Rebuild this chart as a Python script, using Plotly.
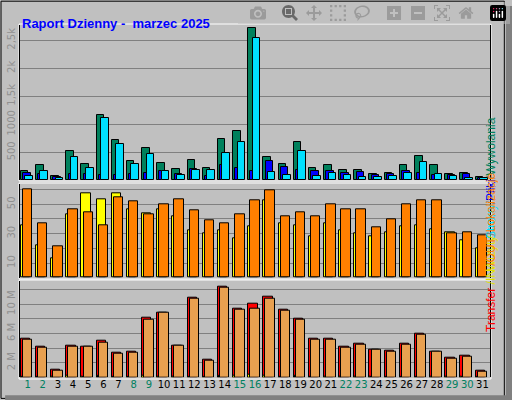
import plotly.graph_objects as go

days = list(range(1, 32))
hits = [160, 274, 71, 524, 292, 1160, 714, 339, 571, 304, 196, 357, 214, 732, 881, 2714,
        417, 292, 679, 214, 268, 179, 179, 113, 125, 268, 435, 268, 107, 125, 54]
files = [137, 119, 60, 113, 119, 95, 95, 113, 131, 167, 113, 202, 77, 274, 220, 167,
         339, 238, 185, 160, 160, 125, 143, 95, 107, 160, 131, 89, 89, 107, 36]
pages = [71, 160, 36, 417, 214, 1113, 649, 286, 470, 167, 95, 179, 179, 488, 679, 2536,
         143, 89, 518, 71, 125, 89, 54, 60, 71, 125, 321, 107, 71, 36, 36]
visits = [35.7, 22, 13, 43, 57.5, 53.4, 57.5, 46.6, 43.9, 46.6, 41.8, 32.3, 30.2, 32.3, 26.8, 35,
          52.7, 37, 35.7, 28.2, 37, 32.3, 30.2, 28.2, 30.9, 35, 35.7, 33, 30.9, 25.5, 20]
sites = [60.2, 37, 21.4, 46.6, 44.5, 35.7, 54.8, 52, 43.2, 50, 53.4, 45.9, 39, 37, 43.2, 52.7,
         59.5, 41.8, 44.5, 41.8, 50, 46.6, 46.6, 34.3, 39.8, 50, 52.7, 52.7, 30.2, 30.9, 28.9]
kb_total = [5.32, 4.23, 1.09, 4.36, 4.23, 5.05, 3.41, 3.55, 8.18, 8.86, 4.36, 10.9, 2.45, 12.4, 9.41, 10.09,
            11.05, 9.27, 8.05, 5.32, 5.32, 4.23, 4.64, 3.82, 3.68, 4.64, 6.0, 3.55, 2.73, 3.0, 0.95]
kb_in = [0.1, 0.1, 0.05, 0.2, 0.1, 0.2, 0.1, 0.1, 0.2, 0.1, 0.1, 0.1, 0.05, 0.2, 0.2, 0.4,
         0.2, 0.1, 0.2, 0.1, 0.1, 0.1, 0.1, 0.1, 0.1, 0.1, 0.1, 0.1, 0.1, 0.1, 0.05]
kb_out = [5.18, 4.09, 0.95, 4.23, 4.23, 4.77, 3.27, 3.41, 7.91, 8.86, 4.36, 10.77, 2.32, 12.27, 9.27, 9.41,
          10.77, 9.14, 7.91, 5.18, 5.18, 4.09, 4.5, 3.82, 3.55, 4.5, 5.86, 3.55, 2.59, 2.86, 0.82]
weekend = {1, 2, 8, 9, 15, 16, 22, 23, 29, 30}

BG = "#C0C0C0"
line = dict(color="black", width=1)

fig = go.Figure()

def bar(y, color, off, w, ax):
    fig.add_trace(go.Bar(x=days, y=y, marker=dict(color=color, line=line),
                         offset=off, width=w, xaxis="x", yaxis=ax, showlegend=False))

bar(hits, "#00805C", -0.45, 0.5, "y")
bar(files, "#0000FF", -0.3, 0.5, "y")
bar(pages, "#00E0FF", -0.15, 0.5, "y")
bar(visits, "#FFFF00", -0.45, 0.62, "y2")
bar(sites, "#FF8000", -0.31, 0.62, "y2")
bar(kb_total, "#FF0000", -0.45, 0.62, "y3")
bar(kb_in, "#FFFF00", -0.45, 0.1, "y3")
bar(kb_out, "#E8A050", -0.31, 0.62, "y3")

xd = [20 / 512, 490 / 512]
def yd(bot, top):
    return [1 - bot / 400, 1 - top / 400]

yax = dict(showgrid=True, gridcolor="#808080", gridwidth=1, zeroline=False, tickangle=-90,
           tickfont=dict(family="DejaVu Sans", size=10, color="#909090"), ticks="",
           showline=True, linecolor="black", mirror=True, fixedrange=True)

fig.update_layout(
    width=512, height=400, margin=dict(l=0, r=0, t=0, b=0),
    paper_bgcolor=BG, plot_bgcolor=BG, barmode="overlay", bargap=0,
    xaxis=dict(domain=xd, range=[0.5, 31.5], tickvals=days,
               ticktext=[f"<span style='color:{'#008060' if d in weekend else 'black'}'>{d}</span>" for d in days],
               tickfont=dict(family="DejaVu Sans", size=10), ticks="", anchor="y3",
               showline=False, showgrid=False, zeroline=False),
    yaxis=dict(domain=yd(180.3, 25), range=[0, 2775], tickvals=[500, 1000, 1500, 2000, 2500],
               ticktext=["500", "1000", "1,5k", "2k", "2,5k"], **yax),
    yaxis2=dict(domain=yd(277.7, 184.3), range=[0, 63.6], tickvals=[10, 20, 30, 40, 50, 60],
                ticktext=["10", "", "30", "", "50", ""], **yax),
    yaxis3=dict(domain=yd(377.3, 280.7), range=[0, 13.2], tickvals=[2, 4, 6, 8, 10, 12],
                ticktext=["2 M", "", "6 M", "", "10 M", ""], **yax),
)

# frames around panels
shapes = [
    dict(type="rect", xref="paper", yref="paper", x0=0.002, y0=0.004, x1=0.985, y1=0.997,
         line=dict(color="black", width=1)),
    dict(type="rect", xref="paper", yref="paper", x0=0.988, y0=0.0, x1=1.0, y1=0.985,
         fillcolor="#808080", line=dict(width=0)),
    dict(type="rect", xref="paper", yref="paper", x0=0.01, y0=0.0, x1=1.0, y1=0.012,
         fillcolor="#808080", line=dict(width=0)),
]
for bot, top in [(181, 24), (279, 183), (379, 280)]:
    shapes.append(dict(type="rect", xref="paper", yref="paper",
                       x0=19 / 512, x1=491 / 512, y0=1 - bot / 400, y1=1 - top / 400,
                       line=dict(color="white", width=1), layer="below"))
fig.update_layout(shapes=shapes)

def sp(t, c):
    return f"<span style='color:{c}'>{t}</span>"

rf = dict(family="Liberation Sans", size=12)
fig.add_annotation(x=500 / 512, y=1 - 115 / 400, xref="paper", yref="paper", textangle=-90,
                   showarrow=False, font=rf,
                   text=sp("Strony", "#00E0FF") + sp("/", "#808080") + sp("Pliki", "#0000FF")
                   + sp("/", "#808080") + sp("Wywolania", "#00805C"))
fig.add_annotation(x=500 / 512, y=1 - 222 / 400, xref="paper", yref="paper", textangle=-90,
                   showarrow=False, font=rf,
                   text=sp("Wizyty", "#E0E000") + sp("/", "#808080") + sp("Lokalizacje", "#FF8000"))
fig.add_annotation(x=500 / 512, y=1 - 334 / 400, xref="paper", yref="paper", textangle=-90,
                   showarrow=False, font=rf,
                   text=sp("Transfer", "#FF0000") + sp(" /IN", "#E0E000") + sp(" /OUT", "#FF8000"))
fig.add_annotation(x=20 / 512, y=1 - 14 / 400, xref="paper", yref="paper", xanchor="left",
                   showarrow=False, text="<b>Raport Dzienny -  marzec 2025</b>",
                   font=dict(family="Liberation Sans", size=13, color="#0000FF"))

fig.write_html("out.html", post_script="document.body.style.margin='0';document.body.style.overflow='hidden';")
